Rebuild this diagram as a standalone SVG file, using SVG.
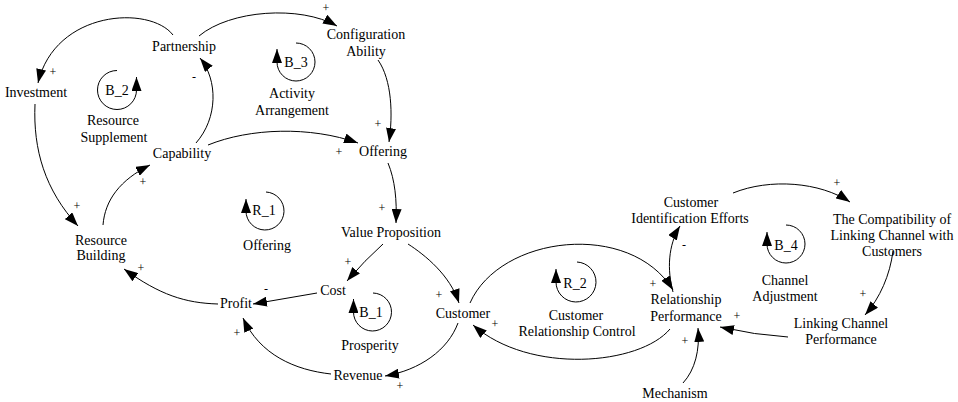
<svg xmlns="http://www.w3.org/2000/svg" width="958" height="402" viewBox="0 0 958 402">
<style>
text{font-family:'Liberation Serif','DejaVu Serif','Times New Roman',serif;font-size:14px;fill:#000;text-anchor:middle}
.s{font-size:12px}
.c{fill:none;stroke:#000;stroke-width:1}
.l{fill:none;stroke:#000;stroke-width:1}
</style>
<defs>
<marker id="ah" markerUnits="userSpaceOnUse" markerWidth="14" markerHeight="10" refX="14" refY="5" orient="auto" viewBox="0 0 14 10">
<path d="M0,0 L14,5 L0,10 z" fill="#000"/>
</marker>
</defs>
<rect width="958" height="402" fill="#fff"/>
<g id="connectors">
<path class="c" marker-end="url(#ah)" d="M173,35 C150,5 55,10 38,83"/>
<path class="c" marker-end="url(#ah)" d="M199,36 C230,10 300,5 337,26"/>
<path class="c" marker-end="url(#ah)" d="M196,143 C218,118 218,80 200,58"/>
<path class="c" marker-end="url(#ah)" d="M208,145 C250,128 310,126 358,143"/>
<path class="c" marker-end="url(#ah)" d="M378,60 C392,80 393,115 389,142"/>
<path class="c" marker-end="url(#ah)" d="M35,104 C33,150 45,190 78,226"/>
<path class="c" marker-end="url(#ah)" d="M103,225 C105,200 120,180 150,165"/>
<path class="c" marker-end="url(#ah)" d="M388,163 C395,180 397,200 396,223"/>
<path class="c" marker-end="url(#ah)" d="M383,244 Q365,260 347,281"/>
<path class="c" marker-end="url(#ah)" d="M408,244 C425,255 450,275 459,303"/>
<path class="c" marker-end="url(#ah)" d="M317,293 L253,304"/>
<path class="c" marker-end="url(#ah)" d="M331,374 C295,370 260,355 243,318"/>
<path class="c" marker-end="url(#ah)" d="M458,323 C448,350 420,370 385,376"/>
<path class="c" marker-end="url(#ah)" d="M218,304 C185,303 160,295 124,269"/>
<path class="c" marker-end="url(#ah)" d="M470,303 C500,235 630,220 673,290"/>
<path class="c" marker-end="url(#ah)" d="M670,329 C640,365 530,375 473,325"/>
<path class="c" marker-end="url(#ah)" d="M673,292 C667,270 668,245 680,226"/>
<path class="c" marker-end="url(#ah)" d="M733,193 C770,178 820,182 850,202"/>
<path class="c" marker-end="url(#ah)" d="M893,251 C890,275 880,298 865,315"/>
<path class="c" marker-end="url(#ah)" d="M788,337 Q755,335 720,327"/>
<path class="c" marker-end="url(#ah)" d="M683,383 C695,370 700,350 698,328"/>
</g>
<g id="polarities">
<text class="s" x="53" y="76">+</text>
<text class="s" x="194" y="81">-</text>
<text class="s" x="326" y="12">+</text>
<text class="s" x="378" y="128">+</text>
<text class="s" x="339" y="156">+</text>
<text class="s" x="77" y="210">+</text>
<text class="s" x="143" y="186">+</text>
<text class="s" x="382" y="212">+</text>
<text class="s" x="348" y="266">+</text>
<text class="s" x="439" y="299">+</text>
<text class="s" x="266" y="293">-</text>
<text class="s" x="237" y="337">+</text>
<text class="s" x="400" y="390">+</text>
<text class="s" x="141" y="272">+</text>
<text class="s" x="495" y="328">+</text>
<text class="s" x="653" y="288">+</text>
<text class="s" x="684" y="249">-</text>
<text class="s" x="837" y="187">+</text>
<text class="s" x="863" y="298">+</text>
<text class="s" x="737" y="320">+</text>
<text class="s" x="685" y="345">+</text>
</g>
<g id="investment"><text x="36" y="97">Investment</text></g>
<g id="partnership"><text x="184" y="51">Partnership</text></g>
<g id="configuration-ability"><text x="366" y="39">Configuration</text><text x="366" y="56">Ability</text></g>
<g id="capability"><text x="182" y="158">Capability</text></g>
<g id="offering"><text x="383" y="156">Offering</text></g>
<g id="resource-building"><text x="101" y="245">Resource</text><text x="101" y="260">Building</text></g>
<g id="value-proposition"><text x="391" y="237">Value Proposition</text></g>
<g id="cost"><text x="333" y="295">Cost</text></g>
<g id="profit"><text x="236" y="308">Profit</text></g>
<g id="revenue"><text x="358" y="380">Revenue</text></g>
<g id="customer"><text x="463" y="318">Customer</text></g>
<g id="relationship-performance"><text x="686" y="304">Relationship</text><text x="686" y="321">Performance</text></g>
<g id="mechanism"><text x="675" y="398">Mechanism</text></g>
<g id="customer-identification-efforts"><text x="691" y="207">Customer</text><text x="690" y="223">Identification Efforts</text></g>
<g id="compatibility"><text x="892" y="224">The Compatibility of</text><text x="892" y="240">Linking Channel with</text><text x="892" y="256">Customers</text></g>
<g id="linking-channel-performance"><text x="841" y="328">Linking Channel</text><text x="841" y="344">Performance</text></g>
<g id="loop-b2">
<path class="l" marker-end="url(#ah)" d="M117,70.5 A19.5,19.5 0 1 0 136.5,90 v-13"/>
<text x="117" y="95">B_2</text>
<text x="113" y="125">Resource</text><text x="114" y="142">Supplement</text>
</g>
<g id="loop-b3">
<path class="l" marker-end="url(#ah)" d="M296,43 A19,19 0 1 1 277,62 v-13"/>
<text x="296" y="67">B_3</text>
<text x="292" y="98">Activity</text><text x="292" y="115">Arrangement</text>
</g>
<g id="loop-r1">
<path class="l" marker-end="url(#ah)" d="M266,192 A19,19 0 1 1 246,211 v-12"/>
<text x="264" y="215">R_1</text>
<text x="267" y="250">Offering</text>
</g>
<g id="loop-b1">
<path class="l" marker-end="url(#ah)" d="M373,293 A19,19 0 1 1 353.5,312 v-13"/>
<text x="371" y="317">B_1</text>
<text x="370" y="350">Prosperity</text>
</g>
<g id="loop-r2">
<path class="l" marker-end="url(#ah)" d="M577,262 A20,20 0 1 1 556,282 v-13"/>
<text x="575" y="288">R_2</text>
<text x="576" y="320">Customer</text><text x="577" y="336">Relationship Control</text>
</g>
<g id="loop-b4">
<path class="l" marker-end="url(#ah)" d="M786,225 A19,19 0 1 1 767,244 v-12"/>
<text x="786" y="250">B_4</text>
<text x="785" y="285">Channel</text><text x="785" y="301">Adjustment</text>
</g>
</svg>
